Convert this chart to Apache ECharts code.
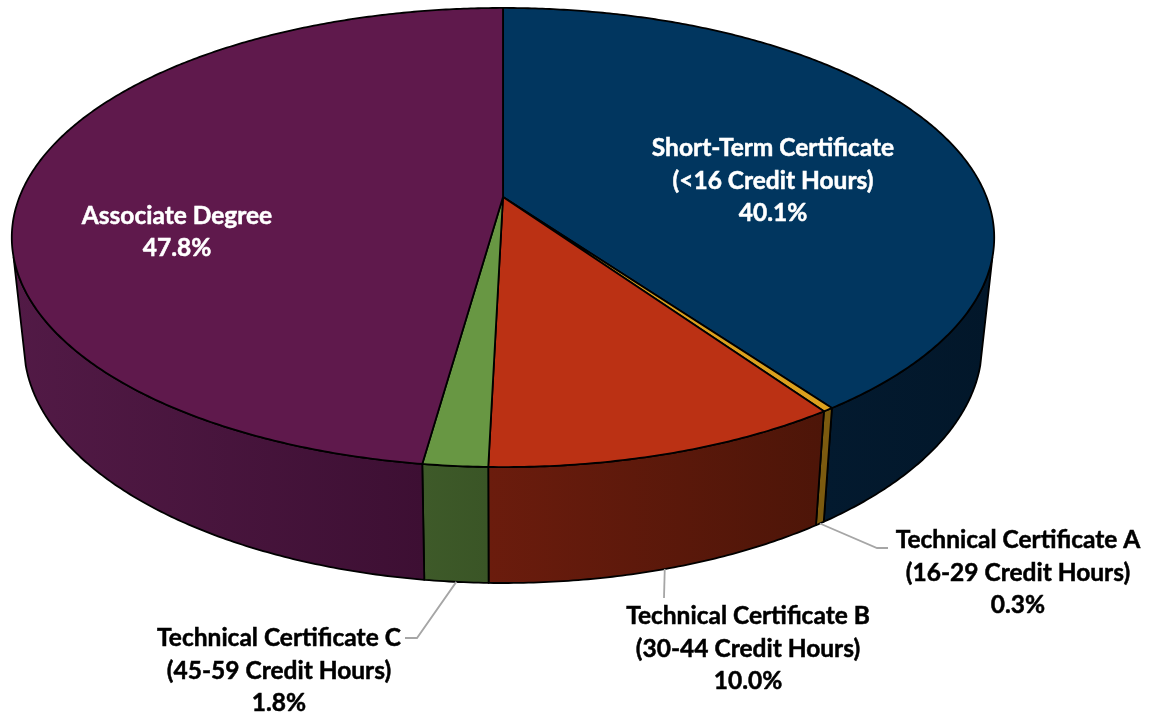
<!DOCTYPE html>
<html>
<head>
<meta charset="utf-8">
<title>Awards by credential type</title>
<script src="https://cdn.jsdelivr.net/npm/echarts@6/dist/echarts.min.js"></script>
<style>
html, body {
	margin: 0;
	height: 100%;
	background: #fff;
}

#chart {
	width: 1157px;
	height: 715px;
}
</style>
</head>

<body>
	<div id="chart"></div>
</body>
<script type="text/javascript">

    // data, clockwise from 12 o'clock
    var categories = ['Short-Term Certificate', 'Technical Certificate A', 'Technical Certificate B', 'Technical Certificate C', 'Associate Degree'];
    var creditHours = ['<16 Credit Hours', '16-29 Credit Hours', '30-44 Credit Hours', '45-59 Credit Hours', ''];
    var shares = [40.1, 0.3, 10.0, 1.8, 47.8];

    // colours
    var topColors = ['#01365f', '#dca11e', '#bb3114', '#689743', '#5f194c'];
    var sideLeft = ['#031a2f', '#7b5a0f', '#6b1c0d', '#3e5a29', '#521a46'];
    var sideRight = ['#02172a', '#7b5a0f', '#4d1508', '#3a5526', '#3d0f33'];
    var labelColors = ['#fff', '#000', '#000', '#000', '#fff'];

    // label centres, and leader elbows for the three outside labels
    var labelPos = [[773, 181], [1018, 573], [748, 649], [279, 671], [177, 232]];
    var leaders = [null, [[877, 548], [888, 548]], [[664, 598]], [[417, 638], [405, 638]], null];

    // the pie is a tilted disc seen in perspective, top face and bottom face
    var PERSP = -0.1765;
    var topDisc = {cx: 503, cy: 197, rx: 483.5, ry: 222.4};
    var lowDisc = {cx: 503, cy: 303, rx: 471.5, ry: 230.6};
    // part of the rim that can be seen, in degrees
    var RIM_FROM = 105;
    var RIM_TO = 255;

    function project(disc, deg) {
        var a = deg * Math.PI / 180;
        var x = Math.sin(a);
        var y = -Math.cos(a);
        var w = 1 + PERSP * y;
        return [disc.cx + disc.rx * x / w, disc.cy + disc.ry * y / w];
    }

    function arc(disc, from, to) {
        var pts = [];
        var n = Math.max(2, Math.ceil(Math.abs(to - from) * 2));
        for (var i = 0; i <= n; i++) {
            pts.push(project(disc, from + (to - from) * i / n));
        }
        return pts;
    }

    // start and end angle of every slice
    var angles = [];
    var total = 0;
    for (var i = 0; i < shares.length; i++) {
        angles.push([total * 3.6, (total + shares[i]) * 3.6]);
        total += shares[i];
    }

    function renderSide(params, api) {
        var i = params.dataIndex;
        var from = Math.max(angles[i][0], RIM_FROM);
        var to = Math.min(angles[i][1], RIM_TO);
        var pts = arc(topDisc, from, to).concat(arc(lowDisc, from, to).reverse());
        var xs = pts.map(function (p) { return p[0]; });
        return {
            type: 'polygon',
            shape: {points: pts},
            style: {
                fill: new echarts.graphic.LinearGradient(Math.min.apply(null, xs), 0, Math.max.apply(null, xs), 0, [
                    {offset: 0, color: sideLeft[i]},
                    {offset: 1, color: sideRight[i]}
                ], true),
                stroke: '#000',
                lineWidth: 1.8,
                lineJoin: 'round'
            }
        };
    }

    function renderTop(params, api) {
        var i = params.dataIndex;
        var pts = [[topDisc.cx, topDisc.cy]].concat(arc(topDisc, angles[i][0], angles[i][1]));
        return {
            type: 'polygon',
            shape: {points: pts},
            style: {fill: topColors[i], stroke: '#000', lineWidth: 1.8, lineJoin: 'round'}
        };
    }

    function renderLabel(params, api) {
        var i = params.dataIndex;
        var children = [];
        if (leaders[i]) {
            var mid = (angles[i][0] + angles[i][1]) / 2;
            children.push({
                type: 'polyline',
                shape: {points: [project(lowDisc, mid)].concat(leaders[i])},
                style: {fill: null, stroke: '#a6a6a6', lineWidth: 1.8}
            });
        }
        var lines = [categories[i]];
        if (creditHours[i]) {
            lines.push('(' + creditHours[i] + ')');
        }
        lines.push(shares[i].toFixed(1) + '%');
        children.push({
            type: 'text',
            x: labelPos[i][0],
            y: labelPos[i][1],
            style: {
                text: lines.join('\n'),
                font: 'bold 24.5px Lato',
                lineHeight: 32.5,
                fill: labelColors[i],
                stroke: labelColors[i],
                lineWidth: 0.5,
                align: 'center',
                verticalAlign: 'middle'
            }
        });
        return {type: 'group', children: children};
    }

    var dataChart = echarts.init(document.getElementById('chart'));

    option = {
        animation: false,
        series: [{
            type: 'custom',
            coordinateSystem: 'none',
            renderItem: renderSide,
            silent: true,
            z: 1,
            data: shares
        }, {
            type: 'custom',
            coordinateSystem: 'none',
            renderItem: renderTop,
            silent: true,
            z: 2,
            data: shares
        }, {
            type: 'custom',
            coordinateSystem: 'none',
            renderItem: renderLabel,
            silent: true,
            z: 3,
            data: shares
        }]
    };

    dataChart.setOption(option);
</script>
</html>
